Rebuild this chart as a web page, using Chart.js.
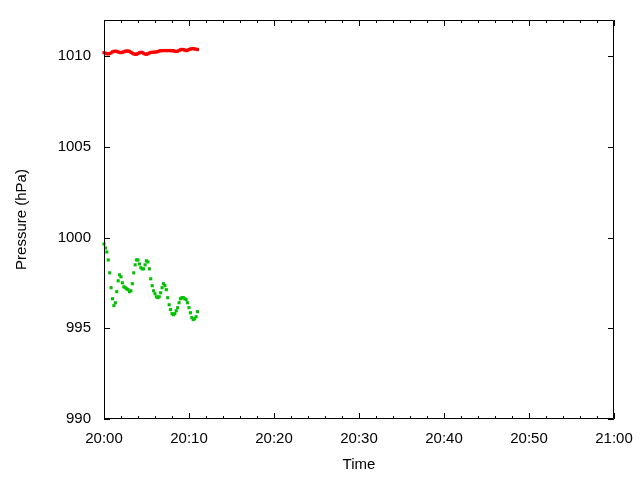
<!DOCTYPE html>
<html lang="en">
<head>
    <meta charset="UTF-8">
    <title>Pressure</title>
    <script src="https://cdn.jsdelivr.net/npm/chart.js"></script>
    <style>
        body { margin: 0; padding: 0; background: white; }
        #wrap { width: 640px; height: 480px; }
    </style>
</head>
<body>
<div id="wrap"><canvas id="chart" width="640" height="480"></canvas></div>
<script>
    // seconds after 20:00, one sample every 10 s
    let times = [0, 10, 20, 30, 40, 50, 60, 70, 80, 90,
        100, 110, 120, 130, 140, 150, 160, 170, 180, 190,
        200, 210, 220, 230, 240, 250, 260, 270, 280, 290,
        300, 310, 320, 330, 340, 350, 360, 370, 380, 390,
        400, 410, 420, 430, 440, 450, 460, 470, 480, 490,
        500, 510, 520, 530, 540, 550, 560, 570, 580, 590,
        600, 610, 620, 630, 640, 650, 660];

    let redPressure = [1010.20, 1010.17, 1010.14, 1010.13, 1010.15, 1010.19, 1010.24, 1010.27, 1010.28, 1010.27,
        1010.24, 1010.21, 1010.20, 1010.22, 1010.25, 1010.28, 1010.29, 1010.29, 1010.27, 1010.22,
        1010.17, 1010.13, 1010.11, 1010.11, 1010.15, 1010.19, 1010.22, 1010.21, 1010.16, 1010.12,
        1010.11, 1010.14, 1010.18, 1010.21, 1010.22, 1010.22, 1010.23, 1010.24, 1010.26, 1010.29,
        1010.31, 1010.31, 1010.31, 1010.32, 1010.31, 1010.31, 1010.32, 1010.31, 1010.31, 1010.30,
        1010.28, 1010.26, 1010.28, 1010.32, 1010.36, 1010.38, 1010.37, 1010.34, 1010.31, 1010.33,
        1010.37, 1010.40, 1010.42, 1010.42, 1010.41, 1010.39, 1010.37];

    let greenPressure = [999.65, 999.43, 999.21, 998.77, 998.06, 997.24, 996.63, 996.25, 996.41, 997.02,
        997.62, 997.95, 997.84, 997.51, 997.29, 997.24, 997.18, 997.13, 997.02, 997.07,
        997.46, 998.06, 998.50, 998.77, 998.77, 998.55, 998.34, 998.28, 998.28, 998.50,
        998.72, 998.66, 998.28, 997.73, 997.35, 997.07, 996.91, 996.74, 996.69, 996.74,
        996.96, 997.24, 997.46, 997.35, 997.13, 996.69, 996.30, 996.03, 995.81, 995.75,
        995.81, 995.97, 996.14, 996.41, 996.63, 996.69, 996.69, 996.63, 996.58, 996.41,
        996.14, 995.86, 995.59, 995.48, 995.53, 995.64, 995.92];

    let xMajor = [0, 600, 1200, 1800, 2400, 3000, 3600];
    let xMinor = [120, 240, 360, 480, 720, 840, 960, 1080, 1320, 1440, 1560, 1680,
        1920, 2040, 2160, 2280, 2520, 2640, 2760, 2880, 3120, 3240, 3360, 3480];
    let yMajor = [990, 995, 1000, 1005, 1010];

    let fontFamily = "'Liberation Sans', Arial, sans-serif";
    let fontSize = 15;

    function toPoints(vals) {
        return times.map((t, i) => ({ x: t, y: vals[i] }));
    }

    function clockLabel(sec) {
        let m = Math.round(sec / 60);
        let h = 20 + Math.floor(m / 60);
        let mm = m % 60;
        return h + ":" + (mm < 10 ? "0" + mm : mm);
    }

    // gnuplot style frame with inward ticks on all four sides
    let frameTicks = {
        id: "frameTicks",
        afterDatasetsDraw(chart) {
            let ctx = chart.ctx;
            let a = chart.chartArea;
            let xs = chart.scales.x, ys = chart.scales.y;
            ctx.save();
            ctx.strokeStyle = "#000";
            ctx.lineWidth = 1;
            ctx.beginPath();
            ctx.rect(a.left + 0.5, a.top + 0.5, a.right - a.left - 1, a.bottom - a.top - 1);
            let tick = (v, len) => {
                let x = Math.round(xs.getPixelForValue(v)) + 0.5;
                ctx.moveTo(x, a.bottom);
                ctx.lineTo(x, a.bottom - len);
                ctx.moveTo(x, a.top);
                ctx.lineTo(x, a.top + len);
            };
            xMajor.forEach(v => tick(v, 6));
            xMinor.forEach(v => tick(v, 3));
            yMajor.forEach(v => {
                let y = Math.round(ys.getPixelForValue(v)) + 0.5;
                ctx.moveTo(a.left, y);
                ctx.lineTo(a.left + 6, y);
                ctx.moveTo(a.right, y);
                ctx.lineTo(a.right - 6, y);
            });
            ctx.stroke();
            ctx.restore();
        }
    };

    new Chart(document.getElementById("chart").getContext("2d"), {
        type: "scatter",
        data: {
            datasets: [{
                label: "red",
                data: toPoints(redPressure),
                backgroundColor: "#ff0000",
                borderWidth: 0,
                pointStyle: "rect",
                pointRadius: 2.2,
                clip: false
            }, {
                label: "green",
                data: toPoints(greenPressure),
                backgroundColor: "#00c000",
                borderWidth: 0,
                pointStyle: "rect",
                pointRadius: 2.2,
                clip: false
            }]
        },
        options: {
            responsive: false,
            animation: false,
            layout: { padding: { top: 20, right: 26, left: 0, bottom: 0 } },
            plugins: { legend: { display: false }, tooltip: { enabled: false } },
            scales: {
                x: {
                    type: "linear",
                    min: 0,
                    max: 3600,
                    afterFit(scale) {
                        scale.height = 61;
                        scale.paddingLeft = 0;
                        scale.paddingRight = 0;
                    },
                    afterBuildTicks(scale) { scale.ticks = xMajor.map(v => ({ value: v })); },
                    grid: { display: false, drawTicks: false },
                    border: { display: false },
                    ticks: {
                        padding: 11,
                        color: "#000",
                        maxRotation: 0,
                        font: { family: fontFamily, size: fontSize },
                        callback: v => clockLabel(v)
                    },
                    title: {
                        display: true,
                        text: "Time",
                        color: "#000",
                        font: { family: fontFamily, size: fontSize },
                        padding: { top: 0, bottom: 6 }
                    }
                },
                y: {
                    min: 990,
                    max: 1012,
                    afterFit(scale) {
                        scale.width = 104;
                        scale.paddingTop = 0;
                        scale.paddingBottom = 0;
                    },
                    afterBuildTicks(scale) { scale.ticks = yMajor.map(v => ({ value: v })); },
                    grid: { display: false, drawTicks: false },
                    border: { display: false },
                    ticks: {
                        padding: 13,
                        color: "#000",
                        font: { family: fontFamily, size: fontSize },
                        callback: v => String(v)
                    },
                    title: {
                        display: true,
                        text: "Pressure (hPa)",
                        color: "#000",
                        font: { family: fontFamily, size: fontSize },
                        padding: { top: 13, bottom: 0 }
                    }
                }
            }
        },
        plugins: [frameTicks]
    });
</script>
</body>
</html>
